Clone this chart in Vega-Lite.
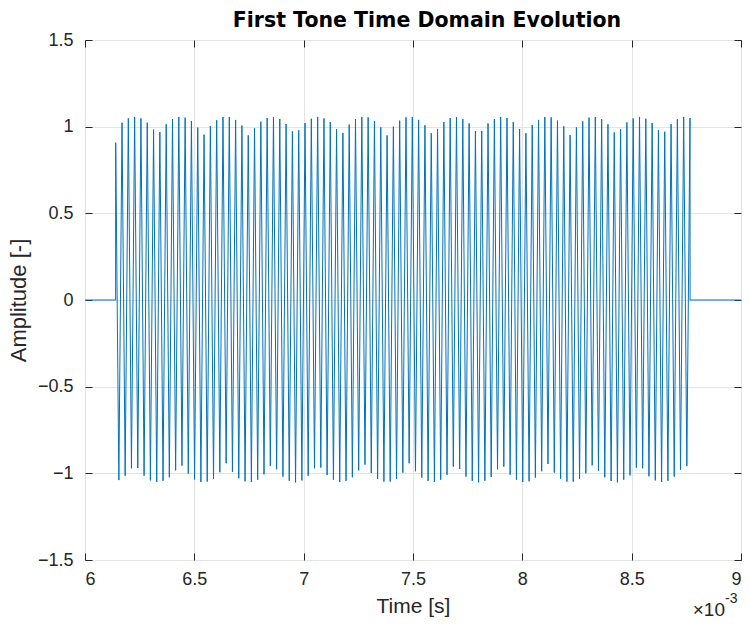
{
  "$schema": "https://vega.github.io/schema/vega-lite/v6.json",
  "width": 656,
  "height": 520,
  "autosize": "none",
  "padding": {"left": 85, "top": 40, "right": 8, "bottom": 65},
  "background": "#ffffff",
  "config": {
    "font": "Liberation Sans",
    "view": {"stroke": "#262626", "strokeWidth": 1}
  },
  "title": {"text": "First Tone Time Domain Evolution", "fontSize": 20.5, "fontWeight": "bold", "font": "DejaVu Sans", "color": "#000000", "offset": 0, "dx": 14},
  "resolve": {"axis": {"x": "independent", "y": "independent"}},
  "layer": [
    {
      "data": {"values": [
        {"t":6,"a":0},{"t":6.14,"a":0},
        {"t":6.1404,"a":0.908},{"t":6.1548,"a":-1.039},
        {"t":6.1693,"a":1.023},{"t":6.1837,"a":-1.014},
        {"t":6.1981,"a":1.048},{"t":6.2125,"a":-0.971},
        {"t":6.2270,"a":1.056},{"t":6.2414,"a":-0.969},
        {"t":6.2558,"a":1.048},{"t":6.2702,"a":-1.014},
        {"t":6.2847,"a":1.023},{"t":6.2991,"a":-1.041},
        {"t":6.3136,"a":0.983},{"t":6.3280,"a":-1.050},
        {"t":6.3424,"a":0.969},{"t":6.3568,"a":-1.043},
        {"t":6.3713,"a":1.014},{"t":6.3857,"a":-1.023},
        {"t":6.4001,"a":1.043},{"t":6.4145,"a":-0.983},
        {"t":6.4290,"a":1.056},{"t":6.4434,"a":-0.956},
        {"t":6.4579,"a":1.052},{"t":6.4723,"a":-1.002},
        {"t":6.4867,"a":1.033},{"t":6.5011,"a":-1.035},
        {"t":6.5156,"a":0.994},{"t":6.5300,"a":-1.050},
        {"t":6.5445,"a":0.954},{"t":6.5589,"a":-1.048},
        {"t":6.5733,"a":1.004},{"t":6.5877,"a":-1.031},
        {"t":6.6022,"a":1.037},{"t":6.6166,"a":-0.994},
        {"t":6.6310,"a":1.056},{"t":6.6454,"a":-0.942},
        {"t":6.6599,"a":1.056},{"t":6.6743,"a":-0.992},
        {"t":6.6888,"a":1.039},{"t":6.7032,"a":-1.029},
        {"t":6.7176,"a":1.006},{"t":6.7320,"a":-1.046},
        {"t":6.7465,"a":0.950},{"t":6.7609,"a":-1.050},
        {"t":6.7753,"a":0.991},{"t":6.7897,"a":-1.037},
        {"t":6.8042,"a":1.029},{"t":6.8186,"a":-1.006},
        {"t":6.8331,"a":1.050},{"t":6.8475,"a":-0.958},
        {"t":6.8619,"a":1.056},{"t":6.8763,"a":-0.977},
        {"t":6.8908,"a":1.044},{"t":6.9052,"a":-1.019},
        {"t":6.9196,"a":1.015},{"t":6.9340,"a":-1.043},
        {"t":6.9485,"a":0.973},{"t":6.9629,"a":-1.052},
        {"t":6.9774,"a":0.979},{"t":6.9918,"a":-1.041},
        {"t":7.0062,"a":1.021},{"t":7.0206,"a":-1.014},
        {"t":7.0351,"a":1.046},{"t":7.0495,"a":-0.971},
        {"t":7.0640,"a":1.056},{"t":7.0784,"a":-0.967},
        {"t":7.0928,"a":1.048},{"t":7.1072,"a":-1.010},
        {"t":7.1217,"a":1.027},{"t":7.1361,"a":-1.037},
        {"t":7.1505,"a":0.985},{"t":7.1649,"a":-1.050},
        {"t":7.1794,"a":0.964},{"t":7.1938,"a":-1.044},
        {"t":7.2083,"a":1.012},{"t":7.2227,"a":-1.023},
        {"t":7.2371,"a":1.043},{"t":7.2515,"a":-0.983},
        {"t":7.2660,"a":1.056},{"t":7.2804,"a":-0.950},
        {"t":7.2948,"a":1.054},{"t":7.3092,"a":-0.998},
        {"t":7.3237,"a":1.033},{"t":7.3381,"a":-1.033},
        {"t":7.3526,"a":0.996},{"t":7.3670,"a":-1.048},
        {"t":7.3814,"a":0.950},{"t":7.3958,"a":-1.048},
        {"t":7.4103,"a":1.000},{"t":7.4247,"a":-1.031},
        {"t":7.4391,"a":1.035},{"t":7.4535,"a":-0.996},
        {"t":7.4680,"a":1.054},{"t":7.4824,"a":-0.942},
        {"t":7.4969,"a":1.056},{"t":7.5113,"a":-0.988},
        {"t":7.5257,"a":1.039},{"t":7.5401,"a":-1.025},
        {"t":7.5546,"a":1.008},{"t":7.5690,"a":-1.044},
        {"t":7.5835,"a":0.962},{"t":7.5979,"a":-1.050},
        {"t":7.6123,"a":0.987},{"t":7.6267,"a":-1.037},
        {"t":7.6412,"a":1.027},{"t":7.6556,"a":-1.008},
        {"t":7.6700,"a":1.050},{"t":7.6844,"a":-0.962},
        {"t":7.6989,"a":1.056},{"t":7.7133,"a":-0.975},
        {"t":7.7278,"a":1.044},{"t":7.7422,"a":-1.019},
        {"t":7.7566,"a":1.019},{"t":7.7710,"a":-1.043},
        {"t":7.7855,"a":0.975},{"t":7.7999,"a":-1.052},
        {"t":7.8143,"a":0.975},{"t":7.8287,"a":-1.043},
        {"t":7.8432,"a":1.019},{"t":7.8576,"a":-1.021},
        {"t":7.8721,"a":1.044},{"t":7.8865,"a":-0.977},
        {"t":7.9009,"a":1.056},{"t":7.9153,"a":-0.962},
        {"t":7.9298,"a":1.050},{"t":7.9442,"a":-1.008},
        {"t":7.9586,"a":1.027},{"t":7.9730,"a":-1.037},
        {"t":7.9875,"a":0.987},{"t":8.0019,"a":-1.050},
        {"t":8.0164,"a":0.962},{"t":8.0308,"a":-1.046},
        {"t":8.0452,"a":1.010},{"t":8.0596,"a":-1.025},
        {"t":8.0741,"a":1.039},{"t":8.0885,"a":-0.988},
        {"t":8.1029,"a":1.056},{"t":8.1173,"a":-0.946},
        {"t":8.1318,"a":1.054},{"t":8.1462,"a":-0.996},
        {"t":8.1607,"a":1.035},{"t":8.1751,"a":-1.031},
        {"t":8.1895,"a":1.002},{"t":8.2039,"a":-1.048},
        {"t":8.2184,"a":0.952},{"t":8.2328,"a":-1.048},
        {"t":8.2473,"a":0.996},{"t":8.2617,"a":-1.033},
        {"t":8.2761,"a":1.031},{"t":8.2905,"a":-1.000},
        {"t":8.3050,"a":1.052},{"t":8.3194,"a":-0.954},
        {"t":8.3338,"a":1.056},{"t":8.3482,"a":-0.985},
        {"t":8.3627,"a":1.043},{"t":8.3771,"a":-1.023},
        {"t":8.3916,"a":1.014},{"t":8.4060,"a":-1.044},
        {"t":8.4204,"a":0.967},{"t":8.4348,"a":-1.052},
        {"t":8.4493,"a":0.985},{"t":8.4637,"a":-1.037},
        {"t":8.4781,"a":1.025},{"t":8.4925,"a":-1.012},
        {"t":8.5070,"a":1.048},{"t":8.5214,"a":-0.967},
        {"t":8.5359,"a":1.056},{"t":8.5503,"a":-0.971},
        {"t":8.5647,"a":1.046},{"t":8.5791,"a":-1.017},
        {"t":8.5936,"a":1.021},{"t":8.6080,"a":-1.041},
        {"t":8.6224,"a":0.979},{"t":8.6368,"a":-1.050},
        {"t":8.6513,"a":0.971},{"t":8.6657,"a":-1.043},
        {"t":8.6802,"a":1.015},{"t":8.6946,"a":-1.019},
        {"t":8.7090,"a":1.043},{"t":8.7234,"a":-0.979},
        {"t":8.7379,"a":1.056},{"t":8.7523,"a":-0.958},
        {"t":8.7668,"a":1.050},
        {"t":8.7672,"a":0},{"t":9,"a":0}
      ]},
      "mark": {"type": "line", "color": "#0072BD", "strokeWidth": 1, "clip": true},
      "encoding": {
        "x": {"field": "t", "type": "quantitative", "sort": null,
          "scale": {"domain": [6, 9], "nice": false, "zero": false},
          "axis": {"orient": "bottom", "title": "Time [s]", "values": [6, 6.5, 7, 7.5, 8, 8.5, 9], "format": "~g",
            "offset": -7, "grid": true, "gridColor": "#e3e3e3", "gridWidth": 1,
            "domain": false, "tickColor": "#262626", "tickSize": 7, "tickWidth": 1,
            "labelFontSize": 18, "labelColor": "#262626", "labelPadding": 10, "labelFont": "Liberation Sans",
            "titleFontSize": 21, "titleFontWeight": "normal", "titleColor": "#262626", "titlePadding": 7, "titleFont": "Liberation Sans"}},
        "y": {"field": "a", "type": "quantitative",
          "scale": {"domain": [-1.5, 1.5], "nice": false, "zero": false},
          "axis": {"orient": "left", "title": "Amplitude [-]", "values": [-1.5, -1, -0.5, 0, 0.5, 1, 1.5], "format": "~g",
            "offset": -7, "grid": true, "gridColor": "#e3e3e3", "gridWidth": 1,
            "domain": false, "tickColor": "#262626", "tickSize": 7, "tickWidth": 1,
            "labelFontSize": 18, "labelColor": "#262626", "labelPadding": 12, "labelFont": "Liberation Sans",
            "titleFontSize": 22, "titleFontWeight": "normal", "titleColor": "#262626", "titlePadding": 7, "titleFont": "Liberation Sans"}}
      }
    },
    {
      "data": {"values": [{"t": 9, "a": -1.5, "txt": "×10"}]},
      "mark": {"type": "text", "align": "right", "baseline": "alphabetic", "dx": -16, "dy": 56, "fontSize": 19, "color": "#262626", "font": "Liberation Sans"},
      "encoding": {
        "x": {"field": "t", "type": "quantitative",
          "axis": {"orient": "top", "title": null, "labels": false, "grid": false, "domain": false, "offset": -7, "tickColor": "#262626", "tickSize": 7, "tickWidth": 1, "values": [6, 6.5, 7, 7.5, 8, 8.5, 9]}},
        "y": {"field": "a", "type": "quantitative",
          "axis": {"orient": "right", "title": null, "labels": false, "grid": false, "domain": false, "offset": -7, "tickColor": "#262626", "tickSize": 7, "tickWidth": 1, "values": [-1.5, -1, -0.5, 0, 0.5, 1, 1.5]}},
        "text": {"field": "txt"}
      }
    },
    {
      "data": {"values": [{"t": 9, "a": -1.5, "txt": "-3"}]},
      "mark": {"type": "text", "align": "left", "baseline": "alphabetic", "dx": -16, "dy": 43, "fontSize": 14, "color": "#262626", "font": "Liberation Sans"},
      "encoding": {
        "x": {"field": "t", "type": "quantitative", "axis": null},
        "y": {"field": "a", "type": "quantitative", "axis": null},
        "text": {"field": "txt"}
      }
    }
  ]
}
